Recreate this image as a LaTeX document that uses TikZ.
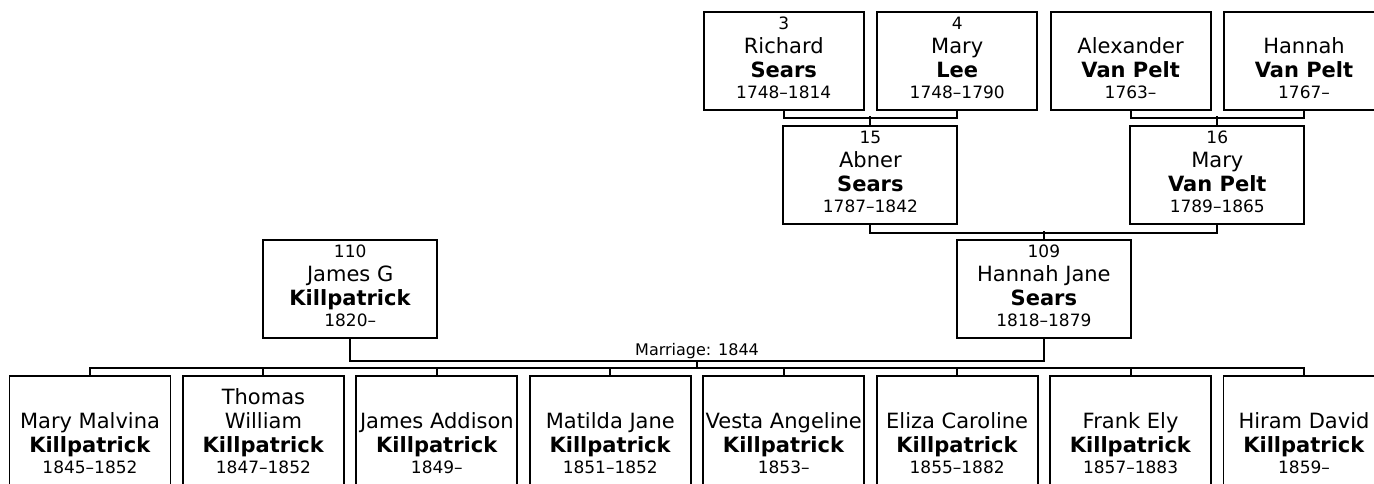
\documentclass[tikz,border=0pt]{standalone}
\usepackage{fontspec}
\setmainfont{DejaVu Sans}
\usetikzlibrary{calc}
\newcommand{\pnum}[1]{{\fontsize{17}{24}\selectfont\vphantom{0}#1}}
\newcommand{\pdates}[1]{{\fontsize{17}{24}\selectfont #1\rule[-6pt]{0pt}{6pt}}}

\begin{document}
\begin{tikzpicture}[
      x=1pt, y=-1pt, line width=1.9pt,
      pbox/.style={draw, align=center, inner sep=0pt, minimum width=160pt, minimum height=98pt, font=\fontsize{21}{24}\selectfont},
      pwide/.style={pbox, minimum width=174pt},
      kid/.style={pbox, minimum width=161pt, minimum height=116pt, anchor=north}]
    \useasboundingbox (0,0) rectangle (1374,483);
    \node[pbox] (richard) at (783.7,61) {\pnum{3}\\Richard\\\textbf{Sears}\\[-3pt]\pdates{1748--1814}};
    \node[pbox] (marylee) at (957.2,61) {\pnum{4}\\Mary\\\textbf{Lee}\\[-3pt]\pdates{1748--1790}};
    \node[pbox] (alexander) at (1130.6,61) {\pnum{}\\Alexander\\\textbf{Van Pelt}\\[-3pt]\pdates{1763--}};
    \node[pbox] (hannahvp) at (1304,61) {\pnum{}\\Hannah\\\textbf{Van Pelt}\\[-3pt]\pdates{1767--}};
    \node[pwide] (abner) at (870.4,175) {\pnum{15}\\Abner\\\textbf{Sears}\\[-3pt]\pdates{1787--1842}};
    \node[pwide] (maryvp) at (1217.3,175) {\pnum{16}\\Mary\\\textbf{Van Pelt}\\[-3pt]\pdates{1789--1865}};
    \node[pwide] (hannahjane) at (1043.9,289) {\pnum{109}\\Hannah Jane\\\textbf{Sears}\\[-3pt]\pdates{1818--1879}};
    \node[pwide] (jamesg) at (350.2,289) {\pnum{110}\\James G\\\textbf{Killpatrick}\\[-3pt]\pdates{1820--}};
    \foreach \nm/\d [count=\i from 0] in {\\Mary Malvina/1845--1852, Thomas\\William/1847--1852,
        \\James Addison/1849--, \\Matilda Jane/1851--1852, \\Vesta Angeline/1853--,
        \\Eliza Caroline/1855--1882, \\Frank Ely/1857--1883, \\Hiram David/1859--}
      \node[kid] (c\i) at ({90+173.43*\i},375) {\vphantom{Th}\nm\\\textbf{Killpatrick}\\[-3pt]\pdates{\d}};
    \draw (richard.south) -- ++(0,7) -| (marylee.south);
    \draw (abner.north) -- ++(0,-9);
    \draw (alexander.south) -- ++(0,7) -| (hannahvp.south);
    \draw (maryvp.north) -- ++(0,-9);
    \draw (abner.south) -- ++(0,8) -| (maryvp.south);
    \draw (hannahjane.north) -- ++(0,-8);
    \coordinate (wed) at ($(jamesg.south)!.5!(hannahjane.south)+(0,22)$);
    \draw (jamesg.south) |- (wed) -| (hannahjane.south);
    \node[above=1pt, inner sep=0pt, font=\fontsize{16}{18}\selectfont] (marr) at (wed) {Marriage: 1844};
    \draw (wed) -- ++(0,8);
    \draw (c0.north) -- ++(0,-7) -| (c7.north);
    \foreach \i in {1,...,6}
      \draw (c\i.north) -- ++(0,-7);
  \end{tikzpicture}
\end{document}
